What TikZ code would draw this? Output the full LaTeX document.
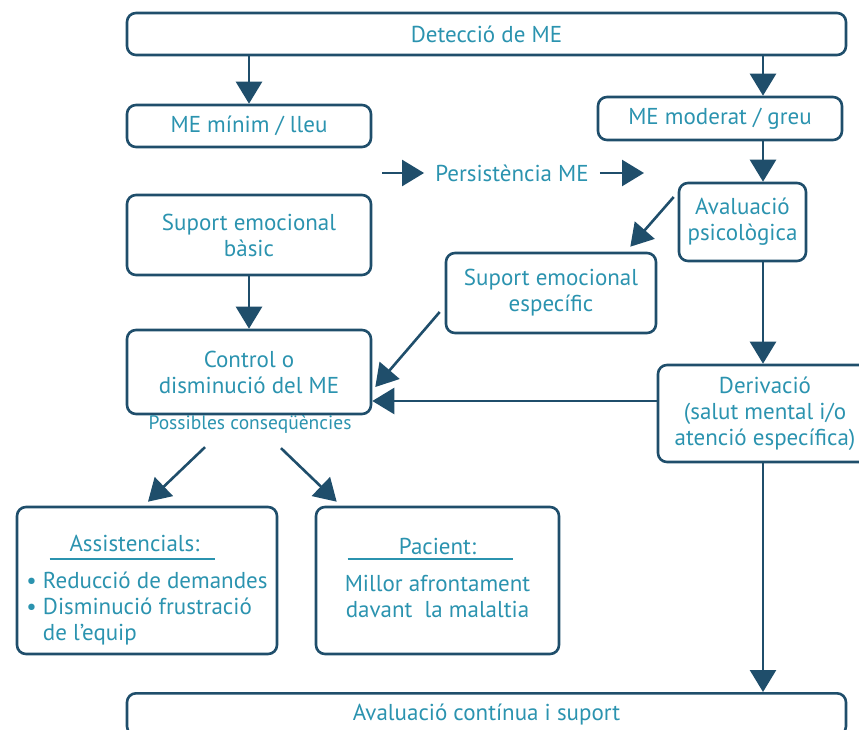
\documentclass[tikz,border=0pt]{standalone}
\usepackage{fontspec}
\setmainfont{PT Sans}
\usetikzlibrary{arrows.meta}
\definecolor{meline}{HTML}{1F4E6B}
\definecolor{metext}{HTML}{2B93AF}
\newcommand{\conseqfont}{\fontsize{19.5}{22}\selectfont}
\newcommand{\topstrut}{\rule{0pt}{36pt}}
\tikzset{
  mebox/.style={draw=meline,line width=2.6pt,rounded corners=9pt,text=metext,align=center,inner sep=0pt},
  mearrow/.style={draw=meline,line width=2.6pt,-{Triangle[length=22pt,width=26pt]}},
  meunder/.style={draw=metext,line width=2pt}
}
\begin{document}
\begin{tikzpicture}[x=1pt,y=-1pt,font=\fontsize{23}{26}\selectfont]
  \useasboundingbox (0,0) rectangle (859,730);
  \node[mebox,minimum width=719pt,minimum height=42pt] (det) at (486.5,34) {Detecció de ME};
  \node[mebox,minimum width=244pt,minimum height=42pt] (mild) at (249,126) {ME mínim / lleu};
  \node[mebox,minimum width=244pt,minimum height=43pt] (mod) at (720,118.5) {ME moderat / greu};
  \node[text=metext,inner xsep=11pt,inner ysep=0pt] (pers) at (512,173) {Persistència ME};
  \node[mebox,minimum width=244pt,minimum height=80pt] (basic) at (249,235) {Suport emocional\\bàsic};
  \node[mebox,minimum width=127pt,minimum height=78pt] (aval) at (742.5,222) {Avaluació\\psicològica};
  \node[mebox,minimum width=210pt,minimum height=80pt] (spec) at (551,293) {Suport emocional\\específic};
  \node[mebox,minimum width=244pt,minimum height=84pt] (ctrl) at (249,372) {Control o\\disminució del ME};
  \node[text=metext,font=\conseqfont,inner sep=0pt] (cons) at (250,424) {Possibles conseqüències};
  \node[mebox,minimum width=214pt,minimum height=97pt] (deriv) at (765,413.5) {Derivació\\(salut mental i/o\\atenció específica)};
  \node[mebox,minimum width=260pt,minimum height=147pt,align=left] (assist) at (147,580.5)
    {\topstrut\makebox[216pt][c]{Assistencials:}\\[11pt]\textbullet\ Reducció de demandes\\\textbullet\ Disminució frustració\\\phantom{\textbullet\ }de l’equip};
  \node[mebox,minimum width=243pt,minimum height=147pt] (pac) at (437.5,580.5)
    {\topstrut Pacient:\\[11pt]Millor afrontament\\davant\ \ la malaltia\\\mbox{}};
  \node[mebox,minimum width=719pt,minimum height=42pt,anchor=north] (cont) at (486.5,692) {Avaluació contínua i suport};
  % underlines
  \draw[meunder] ([shift={(34,53)}]assist.north west) -- ([shift={(199,53)}]assist.north west);
  \draw[meunder] ([shift={(33,53)}]pac.north west) -- ([shift={(198,53)}]pac.north west);
  % connectors
  \coordinate (col) at (763,0);
  \coordinate (p1) at (382,173);
  \coordinate (p2) at (644,173);
  \draw[mearrow] (det.south -| mild.north) -- (mild.north);
  \draw[mearrow] (det.south -| col) -- (mod.north -| col);
  \draw[mearrow] (mod.south -| col) -- (aval.north -| col);
  \draw[mearrow] (aval.south -| col) -- (deriv.north -| col);
  \draw[mearrow] (deriv.south -| col) -- (cont.north -| col);
  \draw[mearrow] (basic) -- (ctrl);
  \draw[mearrow] (p1) -- (pers.west);
  \draw[mearrow] (pers.east) -- (p2);
  \draw[mearrow] ([shift={(-4,-25)}]aval.west) -- ([shift={(-27,-5)}]spec.north east);
  \draw[mearrow] ([shift={(-5,19)}]spec.west) -- ([shift={(3,15)}]ctrl.east);
  \draw[mearrow] ([shift={(0,-12.5)}]deriv.west) -- ([shift={(0,29)}]ctrl.east);
  \draw[mearrow] ([shift={(-45,14)}]cons.south) -- ([shift={(1,-4)}]assist.north);
  \draw[mearrow] ([shift={(31,15)}]cons.south) -- ([shift={(22,-4)}]pac.north west);
\end{tikzpicture}
\end{document}
